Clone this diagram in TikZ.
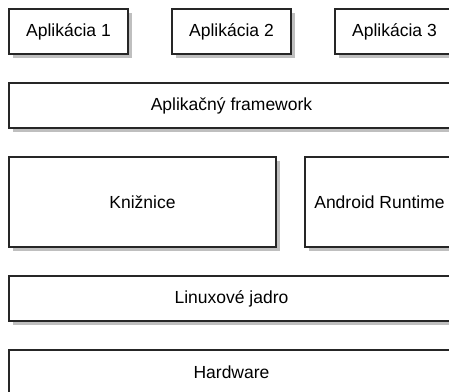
\documentclass[tikz,border=0pt]{standalone}
\usepackage{fontspec}
\setmainfont{Liberation Sans}
\usetikzlibrary{shadows}
\begin{document}
\begin{tikzpicture}[x=1pt,y=-1pt,
  layer/.style={draw=black!85, line width=1.3pt, fill=white, inner sep=0pt,
    font=\fontsize{17.5}{21}\selectfont,
    drop shadow={shadow xshift=4pt, shadow yshift=-4pt, fill=black!25, opacity=1}},
  thin/.style={layer, minimum height=45pt},
  tall/.style={layer, minimum height=90pt}]
\useasboundingbox (0,0) rectangle (449,391);
\clip (0,0) rectangle (449,391);
\node[thin, minimum width=119pt] (app1) at (68.5,31.5) {Aplikácia 1};
\node[thin, minimum width=119pt] (app2) at (231.5,31.5) {Aplikácia 2};
\node[thin, minimum width=119pt] (app3) at (394.5,31.5) {Aplikácia 3};
\node[thin, minimum width=445pt] (fw) at (231.5,105.5) {Aplikačný framework};
\node[tall, minimum width=267pt] (lib) at (142.5,202) {Knižnice};
\node[tall, minimum width=149pt] (rt) at (379.5,202) {Android Runtime};
\node[thin, minimum width=445pt] (kernel) at (231.5,298.5) {Linuxové jadro};
\node[thin, minimum width=445pt] (hw) at (231.5,372.5) {Hardware};
\end{tikzpicture}
\end{document}
